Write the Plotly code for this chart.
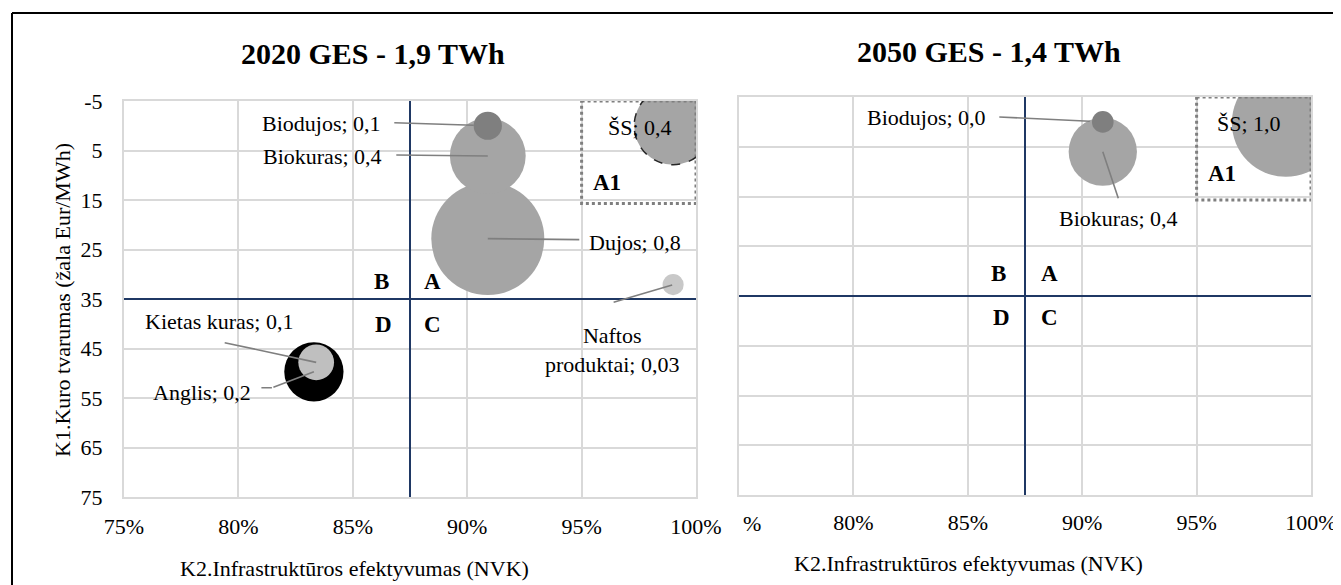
import plotly.graph_objects as go

# page body adds an 8px margin, so the figure is laid out in window pixels minus that offset
OFF = 8
W, H = 1341 - OFF, 585 - OFF
SERIF = "Liberation Serif"

# ---------------- data ----------------
x_tickvals = [0.75, 0.80, 0.85, 0.90, 0.95, 1.00]
x_ticktext = ["75%", "80%", "85%", "90%", "95%", "100%"]
y_tickvals = [-5, 5, 15, 25, 35, 45, 55, 65, 75]
y_ticktext = ["-5", "5", "15", "25", "35", "45", "55", "65", "75"]

k2_split = 0.875      # vertical quadrant line
k1_split = 35         # horizontal quadrant line
a1_k2 = [0.95, 1.0]   # A1 zone
a1_k1 = [-5, 15.7]

names_2020 = ["Anglis", "Kietas kuras", "Dujos", "Biokuras", "Biodujos", "ŠS", "Naftos produktai"]
k2_2020 = [0.833, 0.834, 0.909, 0.909, 0.909, 0.990, 0.990]
k1_2020 = [49.7, 47.8, 22.8, 6.1, 0.0, 0.0, 32.1]
twh_2020 = [0.22, 0.08, 0.80, 0.36, 0.05, 0.38, 0.028]
lbl_2020 = ["0,2", "0,1", "0,8", "0,4", "0,1", "0,4", "0,03"]

names_2050 = ["Biokuras", "Biodujos", "ŠS"]
k2_2050 = [0.909, 0.909, 0.989]
k1_2050 = [6.0, 0.0, 0.2]
twh_2050 = [0.40, 0.04, 1.00]
lbl_2050 = ["0,4", "0,0", "1,0"]

fuel_colors = {
    "Anglis": "#000000", "Kietas kuras": "#bfbfbf", "Dujos": "#a5a5a5",
    "Biokuras": "#a5a5a5", "Biodujos": "#7f7f7f", "ŠS": "#a5a5a5",
    "Naftos produktai": "#c8c8c8",
}

# largest bubble diameter in px for each chart
ref_left = 2 * max(twh_2020) / 113 ** 2
ref_right = 2 * max(twh_2050) / 108 ** 2


def diam(v, sref):
    return (2 * v / sref) ** 0.5


def fx(x):
    return (x - OFF) / W


def fy(y):
    return 1 - (y - OFF) / H


fig = go.Figure()
fig.add_trace(go.Scatter(
    x=k2_2020, y=k1_2020, mode="markers", xaxis="x", yaxis="y", hoverinfo="skip",
    marker=dict(size=twh_2020, sizemode="area", sizeref=ref_left, opacity=1,
                color=[fuel_colors[n] for n in names_2020], line=dict(width=0)),
))
fig.add_trace(go.Scatter(
    x=k2_2050, y=k1_2050, mode="markers", xaxis="x2", yaxis="y2", hoverinfo="skip",
    marker=dict(size=twh_2050, sizemode="area", sizeref=ref_right, opacity=1,
                color=[fuel_colors[n] for n in names_2050], line=dict(width=0)),
))

grid = "#d9d9d9"
tickfont = dict(family=SERIF, size=22, color="#000")


def xaxis(dom, ticktext, anchor, standoff):
    return dict(domain=dom, range=[0.75, 1.0], tickvals=x_tickvals, ticktext=ticktext,
                showgrid=True, gridcolor=grid, gridwidth=2, zeroline=False,
                showline=True, linecolor=grid, linewidth=2, mirror=True,
                ticks="", ticklabelstandoff=standoff, tickfont=tickfont, anchor=anchor,
                automargin=False, fixedrange=True)


def yaxis(dom, show, anchor):
    return dict(domain=dom, range=[75, -5], tickvals=y_tickvals, ticktext=y_ticktext,
                showticklabels=show,
                showgrid=True, gridcolor=grid, gridwidth=2, zeroline=False,
                showline=True, linecolor=grid, linewidth=2, mirror=True,
                ticks="", ticklabelstandoff=15, tickfont=tickfont, anchor=anchor,
                automargin=False, fixedrange=True)


# right chart: the first label is cut in the source, only its "%" shows (added below)
right_ticktext = [""] + x_ticktext[1:]

fig.update_layout(
    width=W, height=H, margin=dict(l=0, r=0, t=0, b=0, pad=0, autoexpand=False),
    paper_bgcolor="white", plot_bgcolor="white", showlegend=False,
    xaxis=xaxis([fx(124), fx(696)], x_ticktext, "y", 9),
    yaxis=yaxis([fy(497), fy(101)], True, "x"),
    xaxis2=xaxis([fx(739), fx(1311)], right_ticktext, "y2", 7),
    yaxis2=yaxis([fy(495), fy(97)], False, "x2"),
)

shapes = []
navy = "#1f3864"
for xr, yr in [("x", "y"), ("x2", "y2")]:
    shapes.append(dict(type="line", xref=xr + " domain", yref=yr, x0=0, x1=1,
                       y0=k1_split, y1=k1_split, line=dict(color=navy, width=2)))
    shapes.append(dict(type="line", xref=xr, yref=yr + " domain", x0=k2_split, x1=k2_split,
                       y0=0, y1=1, line=dict(color=navy, width=2)))
    shapes.append(dict(type="rect", xref=xr, yref=yr, x0=a1_k2[0], x1=a1_k2[1],
                       y0=a1_k1[0], y1=a1_k1[1], line=dict(color="#7f7f7f", width=3, dash="dot")))

# dashed outline of the 2020 ŠS bubble
i = names_2020.index("ŠS")
r = diam(twh_2020[i], ref_left) / 2
shapes.append(dict(type="circle", xref="x", yref="y", xsizemode="pixel", ysizemode="pixel",
                   xanchor=k2_2020[i], yanchor=k1_2020[i], x0=-r, x1=r, y0=-r, y1=r,
                   line=dict(color="#262626", width=1.5, dash="dash")))

# outer frame
shapes.append(dict(type="line", xref="paper", yref="paper", x0=fx(12), x1=1, y0=fy(13), y1=fy(13),
                   line=dict(color="#000", width=2)))
shapes.append(dict(type="line", xref="paper", yref="paper", x0=fx(12), x1=fx(12), y0=0, y1=fy(13),
                   line=dict(color="#000", width=2)))

ann = []


def text(t, x, y, size=22, bold=False, xanchor="center", angle=0):
    ann.append(dict(text=f"<b>{t}</b>" if bold else t, x=fx(x), y=fy(y), xref="paper", yref="paper",
                    xanchor=xanchor, yanchor="middle", showarrow=False, textangle=angle,
                    font=dict(family=SERIF, size=size, color="#000")))


def leader(xr, yr, names, xs, ys, name, ax, ay, standoff=0, xshift=0, yshift=0):
    k = names.index(name)
    ann.append(dict(text="", x=xs[k], y=ys[k], xref=xr, yref=yr, ax=ax, ay=ay,
                    showarrow=True, arrowhead=0, arrowwidth=1.6, arrowcolor="#7f7f7f",
                    standoff=standoff, xshift=xshift, yshift=yshift, font=dict(size=2)))


def label(names, vals, name):
    k = names.index(name)
    return f"{name}; {vals[k]}".replace("Naftos ", "Naftos<br>")


# visible remainder of the right chart's first tick label
ann.append(dict(text=x_ticktext[0][-1], x=x_tickvals[0], xref="x2", y=fy(523), yref="paper",
                xanchor="left", yanchor="middle", xshift=2, showarrow=False, font=tickfont))

# titles
text("2020 GES - 1,9 TWh", 373, 54, size=30, bold=True)
text("2050 GES - 1,4 TWh", 989, 51, size=30, bold=True)
text("K2.Infrastruktūros efektyvumas (NVK)", 355, 568, size=22)
text("K2.Infrastruktūros efektyvumas (NVK)", 969, 563, size=22)
text("K1.Kuro tvarumas (žala Eur/MWh)", 63, 300, size=22, angle=-90)

# 2020 labels
text(label(names_2020, lbl_2020, "Biodujos"), 383, 124, xanchor="right")
text(label(names_2020, lbl_2020, "Biokuras"), 384, 156, xanchor="right")
text(label(names_2020, lbl_2020, "Dujos"), 587, 242, xanchor="left")
text(label(names_2020, lbl_2020, "Naftos produktai"), 612, 350)
text(label(names_2020, lbl_2020, "ŠS"), 640, 127)
text(label(names_2020, lbl_2020, "Kietas kuras"), 143, 321, xanchor="left")
text(label(names_2020, lbl_2020, "Anglis"), 253, 392, xanchor="right")

leader("x", "y", names_2020, k2_2020, k1_2020, "Biodujos", -95, -3, standoff=14)
leader("x", "y", names_2020, k2_2020, k1_2020, "Biokuras", -93, -1)
leader("x", "y", names_2020, k2_2020, k1_2020, "Dujos", 93, 1)
leader("x", "y", names_2020, k2_2020, k1_2020, "Naftos produktai", -61, 18, standoff=1)
leader("x", "y", names_2020, k2_2020, k1_2020, "Kietas kuras", -93, -20)
leader("x", "y", names_2020, k2_2020, k1_2020, "Anglis", -42, 16)
leader("x", "y", names_2020, k2_2020, k1_2020, "Anglis", -12, 0, xshift=-42, yshift=-16)

# 2050 labels
text(label(names_2050, lbl_2050, "Biodujos"), 988, 118, xanchor="right")
text(label(names_2050, lbl_2050, "Biokuras"), 1118, 218)
text(label(names_2050, lbl_2050, "ŠS"), 1249, 124)
leader("x2", "y2", names_2050, k2_2050, k1_2050, "Biodujos", -105, -5, standoff=13)
leader("x2", "y2", names_2050, k2_2050, k1_2050, "Biokuras", 16, 48)

# quadrant letters
for dx, q in [(0, "B"), (51, "A")]:
    text(q, 381 + dx, 281, size=23, bold=True)
    text(q, 998 + dx, 273, size=23, bold=True)
for dx, q in [(0, "D"), (48, "C")]:
    text(q, 384 + dx, 324, size=23, bold=True)
    text(q, 1001 + dx, 317, size=23, bold=True)
text("A1", 607, 182, size=23, bold=True)
text("A1", 1222, 173, size=23, bold=True)

fig.update_layout(shapes=shapes, annotations=ann)
fig.write_html("out.html")
